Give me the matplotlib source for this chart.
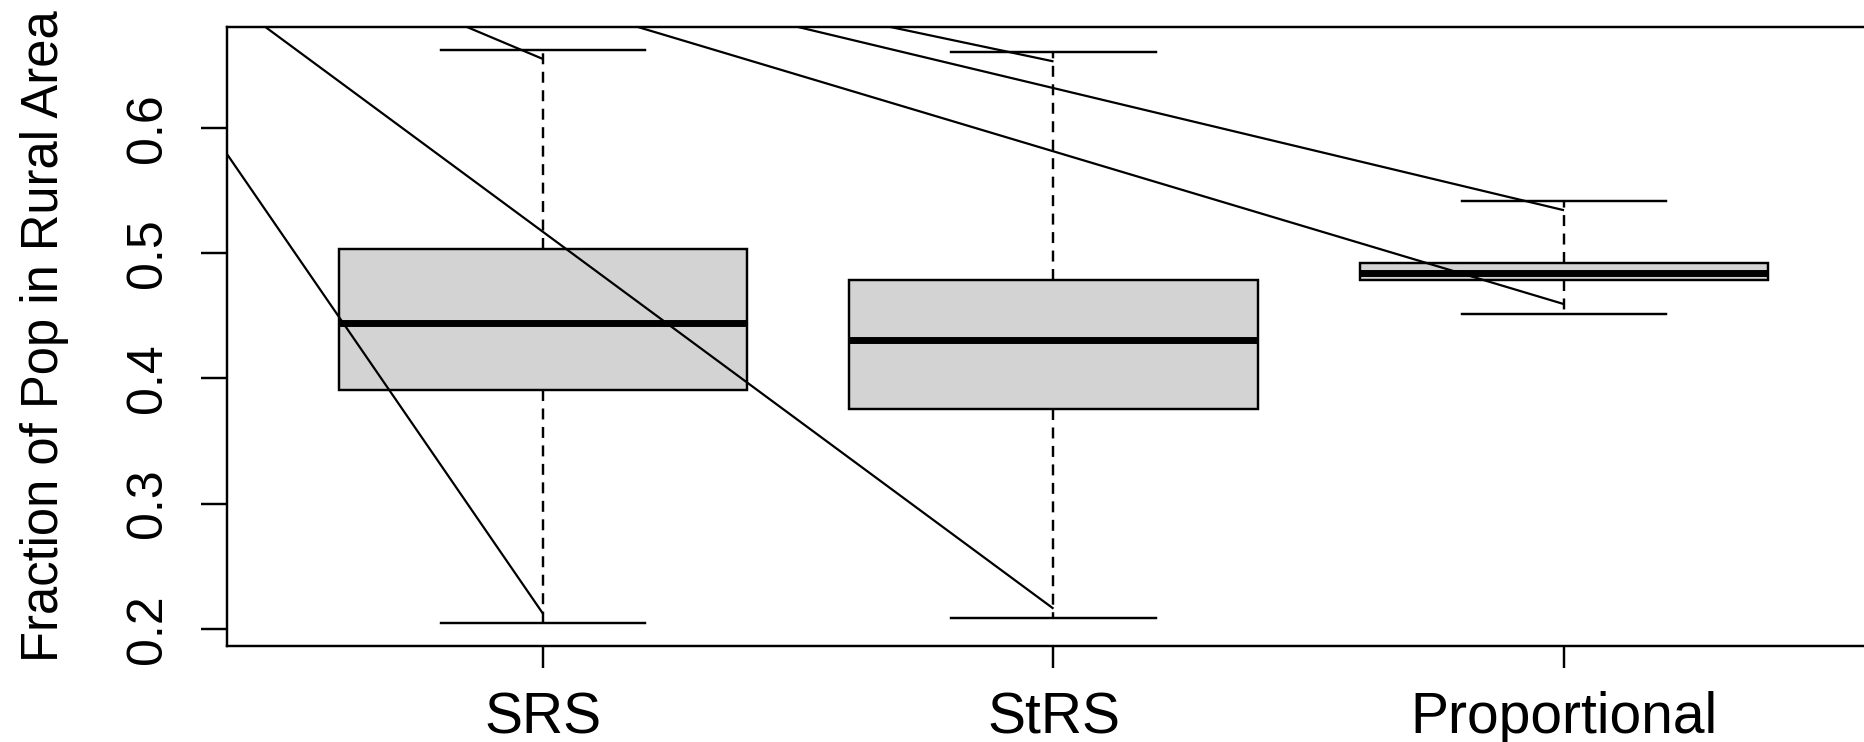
import matplotlib
matplotlib.use("Agg")
import matplotlib.pyplot as plt

# Sampling designs and five-number summaries of the rural population fraction
methods = ["SRS", "StRS", "Proportional"]
whisker_low = [0.2045, 0.2085, 0.4518]
q1 = [0.3904, 0.3755, 0.4785]
median = [0.4444, 0.4308, 0.4845]
q3 = [0.5037, 0.4785, 0.4919]
whisker_high = [0.6626, 0.6607, 0.5418]

# Pointer segments: origin (above / left of the panel) and the whisker end they point at
pointer_from_x = [0.3256, 0.1435, 0.6221, 0.8637, 1.0967, 1.2240]
pointer_from_y = [0.72, 0.72, 0.72, 0.72, 0.72, 0.72]
pointer_box = [1, 0, 0, 2, 2, 1]            # index into methods
pointer_end = ["low", "low", "high", "low", "high", "high"]

y_ticks = [0.2, 0.3, 0.4, 0.5, 0.6]
y_label = "Fraction of Pop in Rural Area"

plt.rcParams["lines.scale_dashes"] = False
sans = ["Liberation Sans", "DejaVu Sans"]

W, H = 1864, 742
fig = plt.figure(figsize=(W / 100, H / 100), dpi=100)
left_px, right_px, top_px, bottom_px = 226.5, 1880.5, 26.7, 646.0
ax = fig.add_axes([left_px / W, 1 - bottom_px / H,
                   (right_px - left_px) / W, (bottom_px - top_px) / H])

positions = list(range(1, len(methods) + 1))
stats = []
for i, m in enumerate(methods):
    stats.append(dict(label=m, whislo=whisker_low[i], q1=q1[i], med=median[i],
                      q3=q3[i], whishi=whisker_high[i], fliers=[]))

lw = 1.75
ax.bxp(stats, positions=positions, widths=0.8, capwidths=0.4,
       patch_artist=True, showfliers=False,
       boxprops=dict(facecolor="#D3D3D3", edgecolor="black", linewidth=lw),
       medianprops=dict(color="black", linewidth=5.0, solid_capstyle="butt"),
       whiskerprops=dict(color="black", linewidth=lw, linestyle=(0, (7.9, 5.4))),
       capprops=dict(color="black", linewidth=lw))

# Pointer lines, stopping a little inside each whisker end
inset = 0.0075
for fx, fy, b, e in zip(pointer_from_x, pointer_from_y, pointer_box, pointer_end):
    tx = positions[b]
    ty = whisker_low[b] + inset if e == "low" else whisker_high[b] - inset
    ax.plot([fx, tx], [fy, ty], color="black", linewidth=1.6, zorder=5,
            solid_capstyle="butt")

# R-style axis limits: 4% padding around the data range
lo = min(whisker_low)
hi = max(whisker_high)
pad = 0.04 * (hi - lo)
ax.set_ylim(lo - pad, hi + pad)
n = len(methods)
ax.set_xlim(0.5 - 0.04 * n, n + 0.5 + 0.04 * n)

for s in ax.spines.values():
    s.set_linewidth(lw)

ax.set_yticks(y_ticks)
ax.set_yticklabels([f"{t:.1f}" for t in y_ticks])
ax.set_xticks(positions)
ax.set_xticklabels(methods)

ax.tick_params(axis="y", length=19, width=lw, pad=21, labelrotation=90)
ax.tick_params(axis="x", length=15.6, width=lw, pad=17)
for lab in ax.get_yticklabels():
    lab.set_fontfamily(sans)
    lab.set_fontsize(36)
    lab.set_va("center")
for lab in ax.get_xticklabels():
    lab.set_fontfamily(sans)
    lab.set_fontsize(41)

ax.set_ylabel(y_label, fontsize=36.5, family=sans)
ax.yaxis.set_label_coords(-0.0954, 0.5)

fig.savefig("out.png", dpi=100)
